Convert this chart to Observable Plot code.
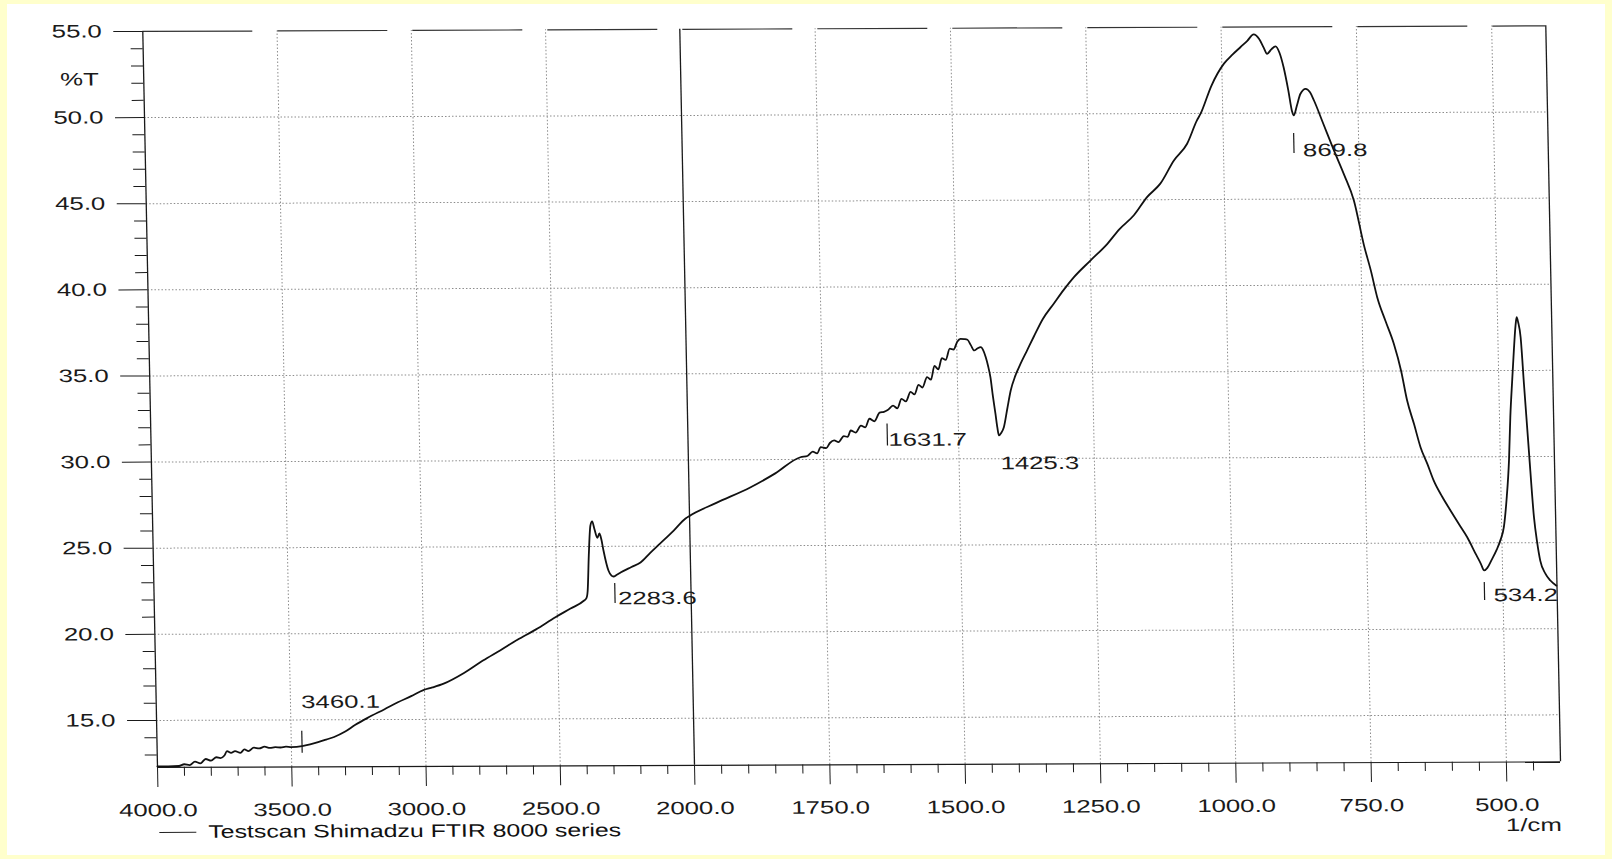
<!DOCTYPE html>
<html>
<head>
<meta charset="utf-8">
<script src="https://cdn.jsdelivr.net/npm/d3@7"></script>
<script src="https://cdn.jsdelivr.net/npm/@observablehq/plot@0.6"></script>
<style>
  html, body { margin: 0; padding: 0; width: 1612px; height: 859px; overflow: hidden; background: #ffffcc; }
  #paper { position: absolute; left: 7px; top: 4px; width: 1598px; height: 851px; background: #ffffff; }
  #chart { position: absolute; left: 0; top: 0; width: 1612px; height: 859px;
           transform-origin: 0 0; transform: matrix(1, -0.004, 0.02, 1, -15.34, 0.6); }
  #chart svg { position: absolute; left: 0; top: 0; }
  #legend-line { position: absolute; left: 158px; top: 832px; width: 37px; height: 0; border-top: 1.4px solid #222; }
  #legend-text { position: absolute; left: 207px; top: 821px; font: 18px "Liberation Sans", Arial, sans-serif;
                 line-height: 22px; white-space: nowrap; color: #111; transform-origin: 0 50%; transform: scaleX(1.38); }
</style>
</head>
<body>
<div id="paper"></div>
<div id="chart">
  <div id="legend-line"></div>
  <div id="legend-text"></div>
</div>
<script>
// ---- data ----
const wavenumber = [
  4000,3960,3920,3900,3880,3860,3840,3820,3800,3780,
  3765,3750,3740,3725,3710,3690,3675,3660,3640,3620,
  3600,3580,3560,3540,3520,3500,3460,3430,3400,3370,
  3340,3300,3260,3214,3150,3100,3050,3004,2970,2928,
  2850,2780,2714,2650,2580,2507,2450,2400,2390,2385,
  2378,2370,2363,2355,2345,2337,2330,2323,2306,2295,
  2288,2275,2261,2220,2186,2150,2111,2060,2015,2000,
  1950,1886,1840,1793,1780,1770,1762,1755,1745,1738,
  1730,1722,1712,1705,1699,1690,1680,1672,1664,1655,
  1645,1637,1630,1620,1612,1604,1596,1587,1580,1572,
  1565,1556,1549,1542,1535,1528,1521,1513,1506,1499,
  1493,1486,1480,1474,1468,1462,1456,1450,1447,1443,
  1439,1435,1431,1428,1425.5,1421,1416,1409,1402,1393,
  1383,1370,1357,1340,1319,1300,1281,1250,1218,1195,
  1168,1143,1118,1092,1067,1048,1041,1020,996,980,
  965,952,940,930,922,916,908,900,893,886,
  878,872,869,863,856,846,838,831,815,796,
  778,761,744,732,721.5,707,692.5,680,670,658,
  647,635,624,609,594,579,564,548,540,534,
  528,520,510,503,496,490,484,480,475,471,
  467,464.6,462,458,453.6,447,440,435,430,421,
  412,401
];
const transmittance = [
  12.33,12.33,12.35,12.45,12.40,12.60,12.50,12.75,12.65,12.85,
  12.80,12.95,13.20,13.10,13.20,13.10,13.30,13.20,13.40,13.35,
  13.45,13.38,13.42,13.40,13.45,13.42,13.47,13.57,13.70,13.85,
  14.00,14.30,14.70,15.10,15.60,16.00,16.35,16.70,16.85,17.07,
  17.70,18.40,19.00,19.60,20.20,20.90,21.40,21.85,22.00,22.40,
  24.50,26.20,26.45,26.00,25.50,25.75,25.40,24.76,23.60,23.30,
  23.25,23.35,23.48,23.80,24.06,24.60,25.16,25.90,26.60,26.75,
  27.50,28.40,29.20,30.13,30.20,30.45,30.35,30.71,30.65,30.95,
  31.10,31.00,31.35,31.30,31.67,31.55,31.95,31.85,32.35,32.20,
  32.70,32.75,32.85,33.10,32.95,33.50,33.35,33.90,33.75,34.30,
  34.15,34.75,34.60,35.40,35.20,35.85,35.75,36.40,36.35,36.80,
  36.97,36.95,36.91,36.60,36.29,36.40,36.48,36.20,35.90,35.40,
  34.73,33.60,32.60,31.80,31.35,31.50,31.83,32.90,33.96,34.80,
  35.50,36.30,37.10,38.10,39.00,39.80,40.52,41.48,42.45,43.30,
  44.10,45.15,45.93,47.27,48.24,49.59,49.98,51.60,52.88,53.40,
  53.83,54.20,54.57,54.30,53.80,53.44,53.70,53.87,53.50,52.67,
  51.30,50.10,49.86,50.40,51.10,51.40,51.20,50.72,49.40,47.82,
  46.40,44.91,42.30,40.80,39.29,37.90,36.58,35.00,33.28,31.90,
  30.57,29.60,28.64,27.70,26.89,26.10,25.33,24.30,23.80,23.40,
  23.55,24.00,24.60,25.14,25.91,27.50,29.80,32.29,34.50,36.16,
  37.60,38.09,37.80,36.93,34.23,30.36,26.48,25.00,23.96,23.20,
  22.80,22.50
];
const xMajorTicks = [4000, 3500, 3000, 2500, 2000, 1750, 1500, 1250, 1000, 750, 500];
const yMajorTicks = [15, 20, 25, 30, 35, 40, 45, 50, 55];
const peakWavenumbers = [3460.1, 2283.6, 1631.7, 1425.3, 869.8, 534.2];
const peakTransmittance = [13.47, 23.25, 32.85, 31.35, 49.86, 23.4];
const peakLabels = ["3460.1", "2283.6", "1631.7", "1425.3", "869.8", "534.2"];
const yAxisTitle = "%T";
const xAxisTitle = "1/cm";
const legendText = "Testscan Shimadzu FTIR 8000 series";

// ---- derived tables ----
const spectrum = wavenumber.map((w, i) => ({w, t: transmittance[i]}));
const peaks = peakWavenumbers.map((w, i) => ({w, t: peakTransmittance[i], label: peakLabels[i]}));
const xGrid = xMajorTicks.filter(v => v !== 4000 && v !== 2000);
const yGrid = yMajorTicks.filter(v => v !== 55);
const xMinor = d3.range(3900, 2000, -100).concat(d3.range(1950, 400, -50)).filter(v => !xMajorTicks.includes(v));
const yMinor = d3.range(13, 55).filter(v => v % 5 !== 0);

const yBottom = 12.27;
const ink = "#1a1a1a";
const gridColor = "#8c8c8c";

// per-label placement (pixels relative to the curve point)
const labelStyle = [
  {dx: 0, dy: -44, tick: [-15, 7]},
  {dx: 3, dy: 22, tick: [7, 27]},
  {dx: 1, dy: 30, tick: [14, 36]},
  {dx: 1, dy: 28, tick: null},
  {dx: 9, dy: 35, tick: [18, 38]},
  {dx: 9, dy: 25, tick: [12, 30]}
];

const peakMarks = [];
peaks.forEach((p, i) => {
  const s = labelStyle[i];
  if (s.tick) {
    peakMarks.push(Plot.ruleX([p], {x: "w", y1: "t", y2: "t", insetTop: s.tick[0], insetBottom: -s.tick[1],
      stroke: ink, strokeWidth: 1.2}));
  }
  peakMarks.push(Plot.text([p], {x: "w", y: "t", text: "label", textAnchor: "start", dx: s.dx, dy: s.dy,
    fill: ink}));
});

const svg = Plot.plot({
  width: 1612,
  height: 845,
  marginLeft: 157,
  marginRight: 52,
  marginTop: 31,
  marginBottom: 78,
  style: {background: "transparent", fontFamily: "'Liberation Sans', Arial, sans-serif", fontSize: "18px", color: ink, overflow: "visible"},
  x: {type: "linear", domain: [4000, 2000, 400], range: [157, 694, 1560], ticks: xMajorTicks,
      tickFormat: d3.format(".1f"), tickSize: 20, tickPadding: 16, label: null},
  y: {domain: [yBottom, 55], ticks: yMajorTicks, tickFormat: d3.format(".1f"), tickSize: 29, tickPadding: 12, label: null},
  marks: [
    Plot.ruleY(yGrid, {stroke: gridColor, strokeWidth: 1, strokeDasharray: "1.5,2"}),
    Plot.ruleX(xGrid, {y1: yBottom, y2: 55, stroke: gridColor, strokeWidth: 1, strokeDasharray: "1.5,2"}),
    Plot.ruleX(xMinor, {x: d => d, y1: yBottom, y2: yBottom, insetBottom: -9, stroke: ink, strokeWidth: 1}),
    Plot.ruleY(yMinor, {y: d => d, x1: 4000, x2: 4000, insetLeft: -12, stroke: ink, strokeWidth: 1}),
    Plot.ruleY([55], {stroke: "#333", strokeWidth: 1.2, strokeDasharray: "110,25"}),
    Plot.ruleY([yBottom], {stroke: ink, strokeWidth: 1.2}),
    Plot.ruleX([4000, 2000, 400], {y1: yBottom, y2: 55, stroke: ink, strokeWidth: 1.3}),
    Plot.line(spectrum, {x: "w", y: "t", stroke: "#111", strokeWidth: 1.8, curve: "monotone-x"}),
    ...peakMarks,
    Plot.text([yAxisTitle], {frameAnchor: "top-left", textAnchor: "end", dx: -45, dy: 41, fill: ink}),
    Plot.text([xAxisTitle], {frameAnchor: "bottom-right", textAnchor: "end", dy: 69, fill: ink})
  ]
});

const chart = document.getElementById("chart");
chart.prepend(svg);
document.getElementById("legend-text").textContent = legendText;

// the printed font is horizontally extended: stretch every label
const STRETCH = 1.43;
svg.querySelectorAll("text").forEach(t => {
  if (t.querySelector("tspan")) return;
  const L = t.getComputedTextLength();
  if (L > 0) {
    t.setAttribute("textLength", (L * STRETCH).toFixed(1));
    t.setAttribute("lengthAdjust", "spacingAndGlyphs");
  }
});
</script>
</body>
</html>
